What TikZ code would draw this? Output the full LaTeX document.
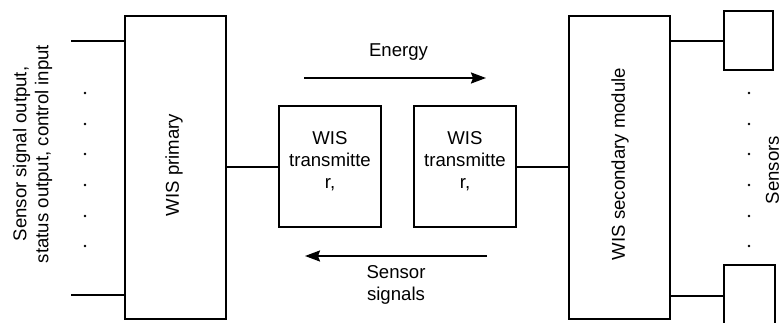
\documentclass[tikz,border=0pt]{standalone}
\usepackage{fontspec}
\setmainfont{Liberation Sans}
\usetikzlibrary{arrows.meta}
\begin{document}
\begin{tikzpicture}[x=1pt,y=-1pt,
  blk/.style={draw, line width=2pt, inner sep=0pt},
  lbl/.style={font=\fontsize{18.6pt}{22pt}\selectfont, inner sep=0pt, align=center},
  wire/.style={line width=2pt},
  flow/.style={line width=2pt, -{Stealth[length=15pt,width=11pt,inset=2pt]}}]
\clip (0,0) rectangle (782,322);
% blocks
\node[blk, minimum width=101pt, minimum height=303pt] (prim) at (175.5,167.5) {};
\node[blk, minimum width=102pt, minimum height=121pt] (txa) at (330,166.5) {};
\node[blk, minimum width=102pt, minimum height=121pt] (txb) at (465,166.5) {};
\node[blk, minimum width=101pt, minimum height=303pt] (sec) at (619.5,167.5) {};
\node[blk, minimum width=49pt, minimum height=59pt] (sna) at (748.5,40.5) {};
\node[blk, minimum width=51pt, minimum height=62pt] (snb) at (749,296) {};
% texts
\node[lbl, rotate=90] (primtxt) at (174,165) {WIS primary};
\node[lbl, rotate=90] (sectxt) at (620,164) {WIS secondary module};
\node[lbl] (txatxt) at (330,161) {WIS\\transmitte\\r,};
\node[lbl] (txbtxt) at (465,161) {WIS\\transmitte\\r,};
\node[lbl, rotate=90] (intxt) at (32.5,154) {Sensor signal output,\\status output, control input};
\node[lbl, rotate=90] (sentxt) at (772.5,170) {Sensors};
\node[lbl, anchor=base] (entxt) at (398.5,56) {Energy};
\node[lbl] (sigtxt) at (396,285) {Sensor\\signals};
% wires
\coordinate (ia) at (71,41);
\coordinate (ib) at (71,295);
\draw[wire] (ia) -- (ia -| prim.west);
\draw[wire] (ib) -- (ib -| prim.west);
\draw[wire] (prim.east |- txa.west) -- (txa.west);
\draw[wire] (txb.east) -- (txb.east -| sec.west);
\draw[wire] (sec.east |- sna.west) -- (sna.west);
\draw[wire] (sec.east |- snb.west) -- (snb.west);
% flow arrows
\coordinate (ea) at (304,78);
\coordinate (eb) at (486,78);
\draw[flow] (ea) -- (eb);
\coordinate (sa) at (487,256);
\coordinate (sb) at (305,256);
\draw[flow] (sa) -- (sb);
% dots
\foreach \yy in {93,124,154,185,216,246} {
  \fill (85,\yy) circle[radius=1.3pt];
  \fill (749,\yy) circle[radius=1.3pt];
}
\end{tikzpicture}
\end{document}
